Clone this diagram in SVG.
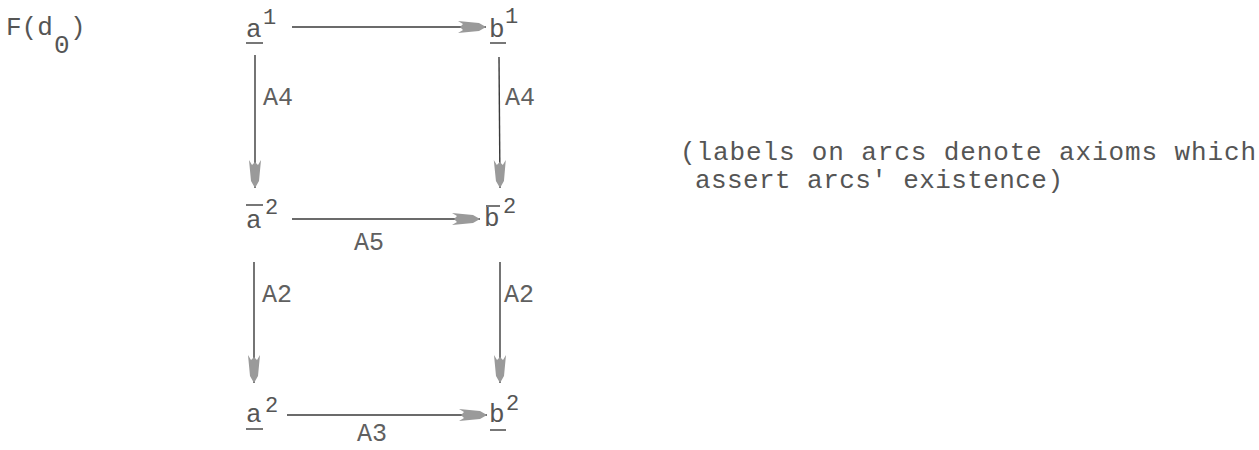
<svg xmlns="http://www.w3.org/2000/svg" width="1259" height="450" viewBox="0 0 1259 450">
  <style>
    text { font-family: "Liberation Mono", "DejaVu Sans Mono", monospace; fill: #555555; }
    .t { font-size: 26px; }
    .sup { font-size: 22px; }
    .lbl { font-size: 25px; fill: #606060; }
    .edge { stroke: #3a3a3a; stroke-width: 1.4; fill: none; }
    .bar { stroke: #555; stroke-width: 1.6; }
  </style>
  <defs>
    <!-- pale feathered dart used on every arc -->
    <marker id="head" viewBox="0 -7 30 14" markerWidth="30" markerHeight="14" refX="28" refY="0" orient="auto" markerUnits="userSpaceOnUse">
      <path d="M0,-6 L5,-3 L2,0 L5,3 L0,6 L21,4 L28,0 L21,-4 Z" fill="#9a9a9a"/>
    </marker>
  </defs>

  <g id="title">
    <text class="t" x="6" y="35">F(d</text>
    <text class="t" x="54" y="53">0</text>
    <text class="t" x="70" y="35">)</text>
  </g>

  <g id="connectors">
    <line class="edge" x1="292" y1="27" x2="486" y2="27" marker-end="url(#head)"/>
    <line class="edge" x1="292" y1="219" x2="480" y2="219" marker-end="url(#head)"/>
    <line class="edge" x1="287" y1="415" x2="487" y2="415" marker-end="url(#head)"/>
    <line class="edge" x1="255" y1="55" x2="255" y2="188" marker-end="url(#head)"/>
    <line class="edge" x1="499" y1="57" x2="500" y2="188" marker-end="url(#head)"/>
    <line class="edge" x1="254" y1="262" x2="254" y2="383" marker-end="url(#head)"/>
    <line class="edge" x1="500" y1="262" x2="500" y2="383" marker-end="url(#head)"/>
    <text class="lbl" x="263" y="105">A4</text>
    <text class="lbl" x="505" y="105">A4</text>
    <text class="lbl" x="354" y="250">A5</text>
    <text class="lbl" x="262" y="302">A2</text>
    <text class="lbl" x="504" y="302">A2</text>
    <text class="lbl" x="357" y="441">A3</text>
  </g>

  <g id="a1">
    <text class="t" x="246" y="37">a</text>
    <text class="sup" x="263" y="24">1</text>
    <line class="bar" x1="246" y1="43" x2="263" y2="43"/>
  </g>

  <g id="b1">
    <text class="t" x="489" y="37">b</text>
    <text class="sup" x="505" y="23">1</text>
    <line class="bar" x1="490" y1="43" x2="506" y2="43"/>
  </g>

  <g id="a2bar">
    <text class="t" x="246" y="228">a</text>
    <text class="sup" x="265" y="214">2</text>
    <line class="bar" x1="246" y1="205" x2="263" y2="205"/>
  </g>

  <g id="b2bar">
    <text class="t" x="484" y="226">b</text>
    <text class="sup" x="503" y="213">2</text>
    <line class="bar" x1="486" y1="206" x2="500" y2="206"/>
  </g>

  <g id="a2">
    <text class="t" x="246" y="422">a</text>
    <text class="sup" x="265" y="412">2</text>
    <line class="bar" x1="246" y1="429" x2="263" y2="429"/>
  </g>

  <g id="b2">
    <text class="t" x="489" y="422">b</text>
    <text class="sup" x="506" y="410">2</text>
    <line class="bar" x1="490" y1="430" x2="506" y2="430"/>
  </g>

  <g id="note">
    <text class="t" x="680" y="160" textLength="576">(labels on arcs denote axioms which</text>
    <text class="t" x="695" y="188" textLength="368">assert arcs' existence)</text>
  </g>
</svg>
